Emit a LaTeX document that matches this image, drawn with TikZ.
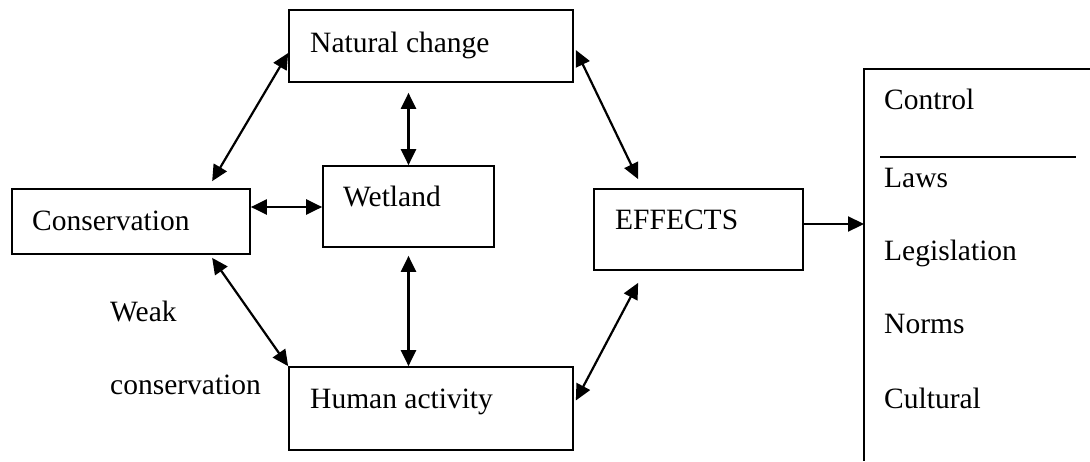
\documentclass[tikz,border=0pt]{standalone}
\usepackage{fontspec}
\setmainfont{Liberation Serif}
\usetikzlibrary{arrows.meta,calc}
\begin{document}
\begin{tikzpicture}[x=1pt,y=-1pt,
  box/.style={draw,line width=1.7pt,inner sep=0pt,minimum width=#1},
  txt/.style={anchor=base west,inner sep=0pt,font=\fontsize{29.5}{35}\selectfont},
  link/.style={line width=2.2pt,{Triangle[length=16pt,width=15pt]}-{Triangle[length=16pt,width=15pt]}},
  onelink/.style={line width=2.2pt,-{Triangle[length=16pt,width=15pt]}},
  rule/.style={line width=2.2pt}]
\useasboundingbox (0,0) rectangle (1090,461);
% boxes
\node[box=238pt,minimum height=65pt] (cons) at (131,221.5) {};
\node[box=284pt,minimum height=72pt] (nat) at (431,46) {};
\node[box=171pt,minimum height=81pt] (wet) at (408.5,206.5) {};
\node[box=284pt,minimum height=83pt] (hum) at (431,408.5) {};
\node[box=209pt,minimum height=81pt] (eff) at (698.5,229.5) {};
% box texts
\node[txt] (tcons) at (32,230) {Conservation};
\node[txt] (tnat) at (310,52) {Natural change};
\node[txt] (twet) at (343,206) {Wetland};
\node[txt] (thum) at (310,408) {Human activity};
\node[txt] (teff) at (615,229) {EFFECTS};
\node[txt] (tweak) at (110,321) {Weak};
\node[txt] (tweak2) at (110,394) {conservation};
% right panel
\coordinate (ptop) at (864,69);
\coordinate (pbot) at (864,461);
\draw[rule] (1090,69) -- (ptop) -- (pbot);
\draw[rule] (880,157) -- (1076,157);
\node[txt] (tctl) at (884,109) {Control};
\node[txt] (tlaws) at (884,187) {Laws};
\node[txt] (tleg) at (884,260) {Legislation};
\node[txt] (tnorm) at (884,333) {Norms};
\node[txt] (tcult) at (884,408) {Cultural};
% connectors
\draw[link] ($(cons.north west)+(201,-7)$) -- ($(nat.west)+(0,7)$);
\draw[link] ($(nat.south -| wet.north)+(0,10)$) -- (wet.north);
\draw[link] ($(cons.east)+(0,-14.5)$) coordinate (c3) -- (c3 -| wet.west);
\draw[link] ($(cons.south west)+(201,3)$) -- (hum.north west);
\draw[link] ($(wet.south)+(0,8)$) -- (wet.south |- hum.north);
\draw[link] ($(nat.east)+(2,4)$) -- ($(eff.north west)+(45,-9)$);
\draw[link] ($(hum.east)+(2,-8)$) -- ($(eff.south west)+(45,12)$);
\draw[onelink] ($(eff.east)+(0,-5.5)$) coordinate (c8) -- (c8 -| ptop);
\end{tikzpicture}
\end{document}
